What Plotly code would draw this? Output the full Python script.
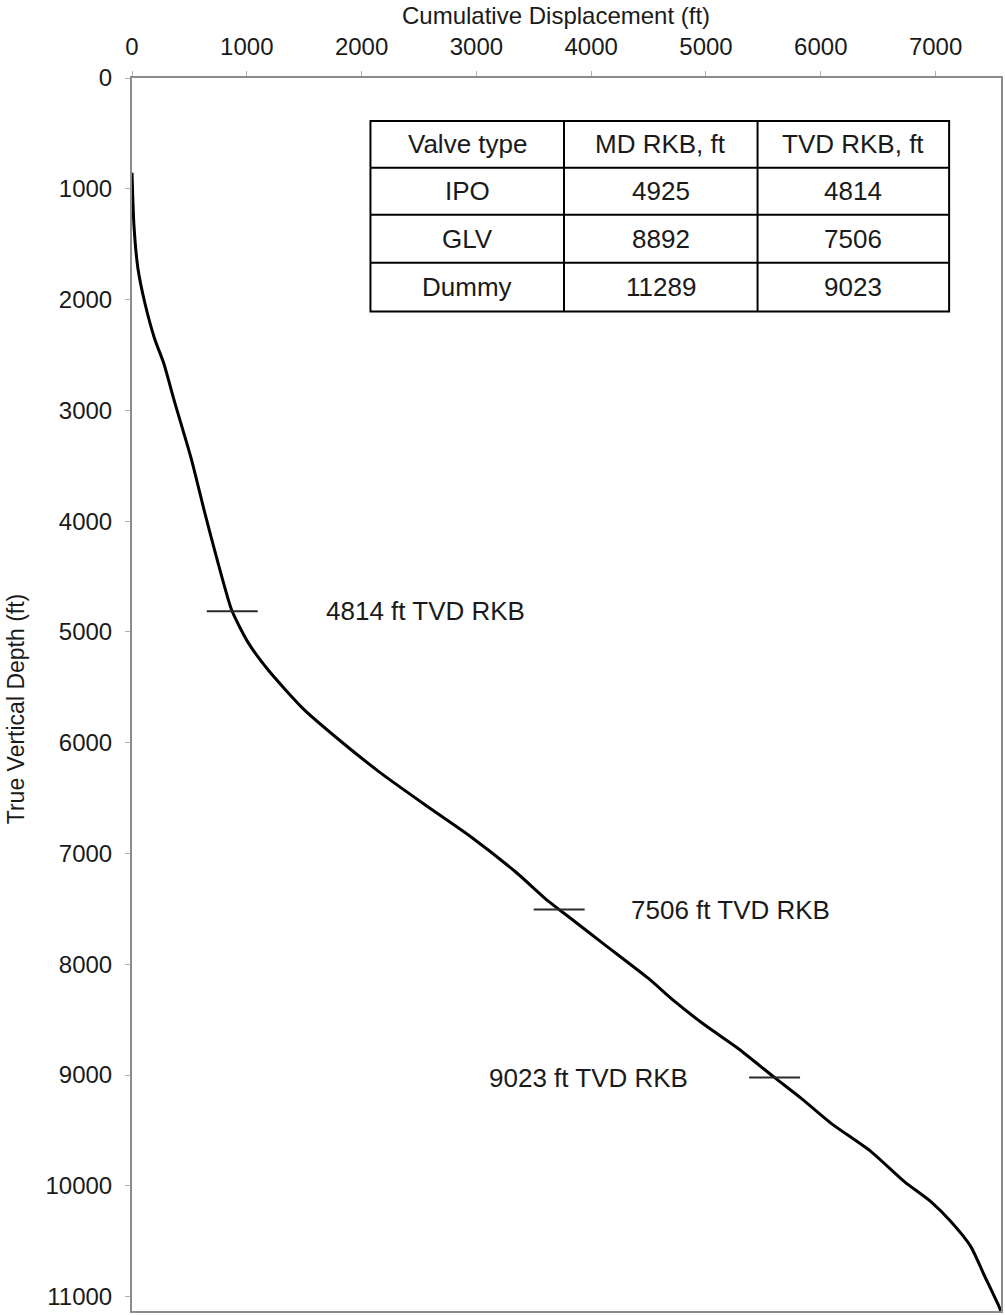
import numpy as np
import plotly.graph_objects as go

# Well trajectory: cumulative horizontal displacement vs true vertical depth (ft)
displacement_ft = [0, 17, 52, 110, 197, 278, 371, 516, 632, 747, 869, 1008, 1190,
                   1490, 1790, 2153, 2558, 2934, 3340, 3629, 3803, 4122, 4499,
                   4730, 4990, 5280, 5599, 5830, 6090, 6438, 6728, 6959, 7133,
                   7307, 7423, 7553, 7567]
tvd_ft = [855, 1331, 1722, 2022, 2353, 2579, 2924, 3436, 3917, 4368, 4805, 5090,
          5349, 5692, 5962, 6263, 6564, 6835, 7165, 7433, 7571, 7827, 8128, 8338,
          8549, 8760, 9024, 9211, 9436, 9691, 9962, 10143, 10323, 10549, 10805,
          11090, 11128]

# Gas-lift valve schedule
valve_type = ["IPO", "GLV", "Dummy"]
md_rkb_ft = [4925, 8892, 11289]
tvd_rkb_ft = [4814, 7506, 9023]
table_header = ["Valve type", "MD RKB, ft", "TVD RKB, ft"]

x_ticks = [0, 1000, 2000, 3000, 4000, 5000, 6000, 7000]
y_ticks = [0, 1000, 2000, 3000, 4000, 5000, 6000, 7000, 8000, 9000, 10000, 11000]

FONT = "Liberation Sans, Arial, sans-serif"
TXT = "#1a1a1a"
W, H = 1005, 1315
ML, MR, MT, MB = 132, 2, 78, 2
PW, PH = W - ML - MR, H - MT - MB

def px_to_paper(px, py):
    return (px - ML) / PW, (H - MB - py) / PH

fig = go.Figure()

fig.add_trace(go.Scatter(
    x=displacement_ft, y=tvd_ft, mode="lines",
    line=dict(color="#000000", width=3, shape="spline", smoothing=0.6),
    hoverinfo="skip", showlegend=False,
))

# Valve depth markers: short horizontal ticks centred on the trajectory
half_w = 222
valve_disp = np.interp(tvd_rkb_ft, tvd_ft, displacement_ft)
for d, t in zip(valve_disp, tvd_rkb_ft):
    fig.add_shape(type="line", xref="x", yref="y",
                  x0=d - half_w, x1=d + half_w, y0=t, y1=t,
                  line=dict(color="#2a2a2a", width=2))

label_pos = [(1674, "left"), (4331, "left"), (4862, "right")]
for (lx, anchor), t in zip(label_pos, tvd_rkb_ft):
    fig.add_annotation(x=lx, y=t, xref="x", yref="y", xanchor=anchor,
                       yanchor="middle", showarrow=False,
                       text=f"{t} ft TVD RKB",
                       font=dict(family=FONT, size=26, color=TXT))

# Valve table
col_px = [371, 565, 759, 951]
row_px = [121, 168, 215, 263, 312]
line_style = dict(color="#000000", width=2)
xl, yt = px_to_paper(col_px[0], row_px[0])
xr, yb = px_to_paper(col_px[-1], row_px[-1])
fig.add_shape(type="rect", xref="paper", yref="paper", x0=xl, x1=xr, y0=yb, y1=yt,
              line=line_style, fillcolor="white", layer="above")
for cx in col_px[1:-1]:
    xp, _ = px_to_paper(cx, 0)
    fig.add_shape(type="line", xref="paper", yref="paper", x0=xp, x1=xp, y0=yb, y1=yt,
                  line=line_style)
for ry in row_px[1:-1]:
    _, yp = px_to_paper(0, ry)
    fig.add_shape(type="line", xref="paper", yref="paper", x0=xl, x1=xr, y0=yp, y1=yp,
                  line=line_style)

rows = [table_header] + [[v, str(m), str(t)] for v, m, t in zip(valve_type, md_rkb_ft, tvd_rkb_ft)]
for ri, row in enumerate(rows):
    cy = (row_px[ri] + row_px[ri + 1]) / 2
    for ci, cell in enumerate(row):
        cx = (col_px[ci] + col_px[ci + 1]) / 2
        xp, yp = px_to_paper(cx, cy)
        fig.add_annotation(x=xp, y=yp, xref="paper", yref="paper",
                           xanchor="center", yanchor="middle", showarrow=False,
                           text=cell, font=dict(family=FONT, size=26, color=TXT))

# Axis titles
xp, yp = px_to_paper(557, 15)
fig.add_annotation(x=xp, y=yp, xref="paper", yref="paper", showarrow=False,
                   xanchor="center", yanchor="middle",
                   text="Cumulative Displacement (ft)",
                   font=dict(family=FONT, size=24, color=TXT))
xp, yp = px_to_paper(16, 710)
fig.add_annotation(x=xp, y=yp, xref="paper", yref="paper", showarrow=False,
                   xanchor="center", yanchor="middle", textangle=-90,
                   text="True Vertical Depth (ft)",
                   font=dict(family=FONT, size=23, color=TXT))

axis_common = dict(showline=True, linecolor="#8c8c8c", linewidth=2, mirror=True,
                   showgrid=False, zeroline=False, ticks="outside", ticklen=5,
                   tickcolor="#b0b0b0", tickwidth=1,
                   tickfont=dict(family=FONT, size=24, color=TXT))

fig.update_xaxes(range=[0, 7570], side="top", tickvals=x_ticks,
                 ticktext=[str(v) for v in x_ticks], ticklabelstandoff=6,
                 **axis_common)
fig.update_yaxes(range=[11130, 0], tickvals=y_ticks,
                 ticktext=[str(v) for v in y_ticks], ticklabelstandoff=8,
                 **axis_common)

fig.update_layout(
    width=W, height=H,
    margin=dict(l=ML, r=MR, t=MT, b=MB),
    paper_bgcolor="white", plot_bgcolor="white",
    showlegend=False,
)

fig.write_html("out.html")
